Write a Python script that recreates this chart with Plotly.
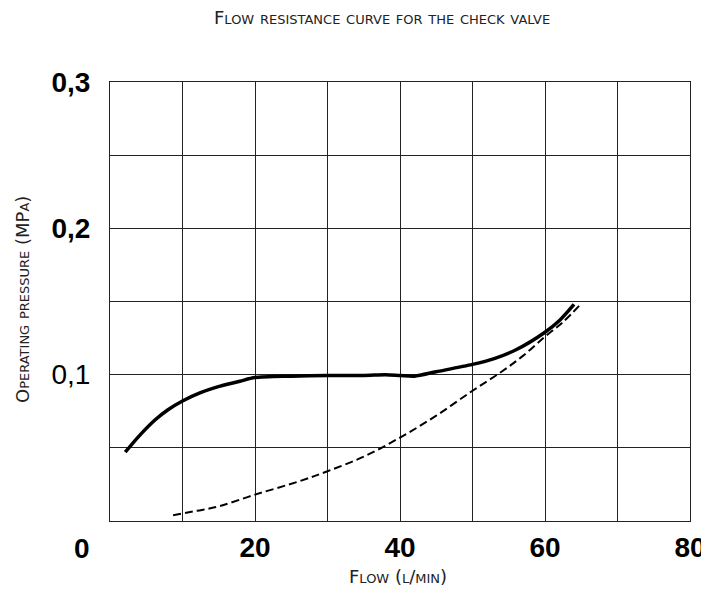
import plotly.graph_objects as go

# Data
solid_x = [2.1, 4, 6.2, 8, 10, 12.4, 14.7, 17.9, 20, 25, 30, 35, 38, 40, 42, 45, 50, 53, 56, 60, 62, 64]
solid_y = [0.047, 0.058, 0.069, 0.076, 0.082, 0.0875, 0.0915, 0.0955, 0.098, 0.099, 0.0995, 0.0995,
           0.1, 0.0995, 0.099, 0.102, 0.107, 0.111, 0.117, 0.129, 0.137, 0.148]

dash_x = [8.7, 12, 15, 20, 26, 30, 35, 40, 45, 50, 54, 57, 60, 62.5, 64.7]
dash_y = [0.004, 0.007, 0.010, 0.018, 0.027, 0.034, 0.044, 0.057, 0.072, 0.089, 0.102, 0.113,
          0.126, 0.136, 0.147]

x_tickvals = [0, 10, 20, 30, 40, 50, 60, 70, 80]
x_ticktext = ["", "", "<b>20</b>", "", "<b>40</b>", "", "<b>60</b>", "", "<b>80</b>"]
y_tickvals = [0, 0.05, 0.1, 0.15, 0.2, 0.25, 0.3]
y_ticktext = ["", "", "0,1", "", "<b>0,2</b>", "", "<b>0,3</b>"]
x_origin_label = "<b>0</b>"

title_text = "Flow resistance curve for the check valve"
x_title = "Flow (l/min)"
y_title = "Operating pressure (MPa)"

fig = go.Figure()
fig.add_trace(go.Scatter(x=solid_x, y=solid_y, mode="lines",
                         line=dict(color="black", width=3.5, shape="spline", smoothing=0.8),
                         showlegend=False, hoverinfo="skip"))
fig.add_trace(go.Scatter(x=dash_x, y=dash_y, mode="lines",
                         line=dict(color="black", width=2, dash="8px,4px", shape="spline"),
                         showlegend=False, hoverinfo="skip"))

tick_font = dict(family="Liberation Sans", size=28, color="black")
cap_font = dict(family="DejaVu Sans", size=18, color="#222222", variant="small-caps")

# page body has an 8px margin, so the figure is offset by 8px
fig.update_layout(
    width=701, height=582,
    margin=dict(l=102, r=19, t=74, b=69, autoexpand=False),
    paper_bgcolor="white", plot_bgcolor="white",
    xaxis=dict(range=[0, 80], tickvals=x_tickvals, ticktext=x_ticktext,
               showgrid=True, gridcolor="#222222", gridwidth=1,
               showline=True, linecolor="#222222", linewidth=1, mirror=True,
               ticks="outside", ticklen=1, tickcolor="rgba(0,0,0,0)",
               tickfont=tick_font, zeroline=False, fixedrange=True),
    yaxis=dict(range=[0, 0.3], tickvals=y_tickvals, ticktext=y_ticktext,
               showgrid=True, gridcolor="#222222", gridwidth=1,
               showline=True, linecolor="#222222", linewidth=1, mirror=True,
               ticks="outside", ticklen=13, tickcolor="rgba(0,0,0,0)",
               tickfont=tick_font, zeroline=False, fixedrange=True),
    annotations=[
        dict(text=title_text, xref="paper", yref="paper", x=(382 - 110) / 580, y=1 + (82 - 18) / 439,
             showarrow=False, xanchor="center", yanchor="middle", font=cap_font),
        dict(text=x_title, xref="paper", yref="paper", x=(398 - 110) / 580, y=-(576 - 521) / 439,
             showarrow=False, xanchor="center", yanchor="middle", font=cap_font),
        dict(text=y_title, xref="paper", yref="paper", x=-(110 - 22) / 580, y=(521 - 300) / 439,
             showarrow=False, xanchor="center", yanchor="middle", textangle=-90, font=cap_font),
        dict(text=x_origin_label, xref="paper", yref="paper", x=-(110 - 82) / 580, y=-(548 - 521) / 439,
             showarrow=False, xanchor="center", yanchor="middle", font=tick_font),
    ],
)

fig.write_html("out.html")
